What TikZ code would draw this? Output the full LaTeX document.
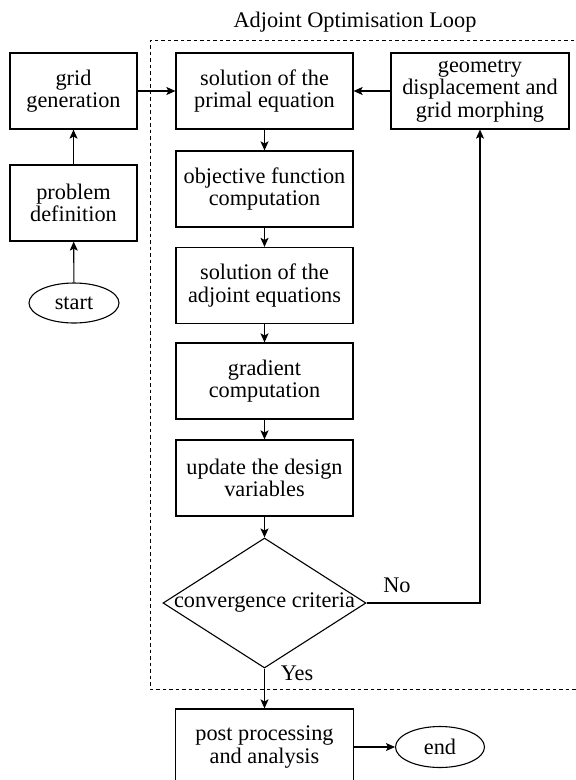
\documentclass[tikz,border=0pt]{standalone}
\usepackage{fontspec}
\setmainfont{Liberation Serif}
\usetikzlibrary{shapes.geometric,arrows.meta}
\begin{document}
\begin{tikzpicture}[x=1pt,y=-1pt,
  txt/.style={font=\fontsize{22.3}{22.5}\selectfont, align=center, inner sep=0pt},
  box/.style={txt, draw, line width=1.2pt, minimum height=76pt},
  oval/.style={txt, draw, ellipse, line width=1.1pt},
  arr/.style={line width=1.1pt, -{Stealth[length=9pt,width=8pt,inset=2pt]}},
  loop/.style={line width=0.9pt, dash pattern=on 3.5pt off 3pt}]
\useasboundingbox (0,0) rectangle (576,780);
% loop frame (open on the right)
\draw[loop] (600,40) -- (150,40) -- (150,689) -- (600,689);
\node[txt] (title) at (355,22) {Adjoint Optimisation Loop};
% left column
\node[box, minimum width=127pt] (grid) at (73.5,91) {grid\\generation};
\node[box, minimum width=127pt] (prob) at (73.5,203) {problem\\definition};
\node[oval, minimum width=90pt, minimum height=40pt] (start) at (74,303) {start};
% main column
\node[box, minimum width=177pt] (primal) at (264.5,91) {solution of the\\primal equation};
\node[box, minimum width=177pt] (obj) at (264.5,189) {objective function\\computation};
\node[box, minimum width=177pt] (adj) at (264.5,285.5) {solution of the\\adjoint equations};
\node[box, minimum width=177pt] (grad) at (264.5,381) {gradient\\computation};
\node[box, minimum width=177pt] (upd) at (264.5,478) {update the design\\variables};
\node[draw, diamond, line width=1.1pt, minimum width=203pt, minimum height=130pt, inner sep=0pt] (conv) at (264.5,603) {};
\node[txt] (convtext) at (conv.center) {convergence criteria};
\node[box, minimum width=178pt] (geom) at (480,91) {geometry\\displacement and\\grid morphing};
\node[box, minimum width=178pt] (post) at (264.5,747) {post processing\\and analysis};
\node[oval, minimum width=89pt, minimum height=41pt] (end) at (440,747) {end};
% labels
\node[txt] (no) at (397,585) {No};
\node[txt] (yes) at (297,673) {Yes};
% connectors
\draw[arr] (start) -- (prob);
\draw[arr] (prob) -- (grid);
\draw[arr] (grid) -- (primal);
\draw[arr] (primal) -- (obj);
\draw[arr] (obj) -- (adj);
\draw[arr] (adj) -- (grad);
\draw[arr] (grad) -- (upd);
\draw[arr] (upd) -- (conv.north);
\draw[arr] (conv.east) -| (geom.south);
\draw[arr] (geom) -- (primal);
\draw[arr] (conv.south) -- (post);
\draw[arr] (post) -- (end);
\end{tikzpicture}
\end{document}
